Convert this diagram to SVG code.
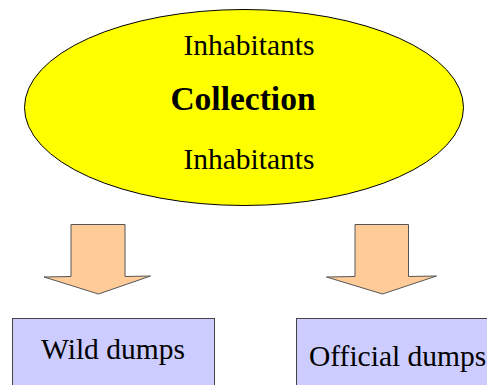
<svg xmlns="http://www.w3.org/2000/svg" width="487" height="385" viewBox="0 0 487 385">
<style>
text{font-family:"Liberation Serif","Times New Roman","DejaVu Serif",serif;fill:#000}
.t{font-size:29.5px}
.b{font-size:33.5px;font-weight:bold}
.arrow{fill:#FFCC99;stroke:#555;stroke-width:1}
.box{fill:#CCCCFF;stroke:#444;stroke-width:1}
</style>
<rect width="487" height="385" fill="#fff"/>
<g id="collection">
<ellipse cx="244" cy="107.5" rx="219.5" ry="98" fill="#FFFF00" stroke="#000" stroke-width="1"/>
<text class="t" x="249" y="54.5" text-anchor="middle">Inhabitants</text>
<text class="b" x="243" y="110" text-anchor="middle">Collection</text>
<text class="t" x="249" y="168.5" text-anchor="middle">Inhabitants</text>
</g>
<g id="connectors">
<polygon class="arrow" points="71,224.5 125,224.5 125,276.5 150.5,276 98.5,294 44,277 71,276.5"/>
<polygon class="arrow" points="355,224.5 408.5,224.5 408.5,276.5 436.5,276 382.5,294 326.5,277 355,276.5"/>
</g>
<g id="wild">
<rect class="box" x="12.5" y="318.5" width="202" height="80"/>
<text class="t" x="113" y="358.5" text-anchor="middle">Wild dumps</text>
</g>
<g id="official">
<rect class="box" x="296.5" y="318.5" width="200" height="80"/>
<text class="t" x="309" y="366">Official dumps</text>
</g>
</svg>
